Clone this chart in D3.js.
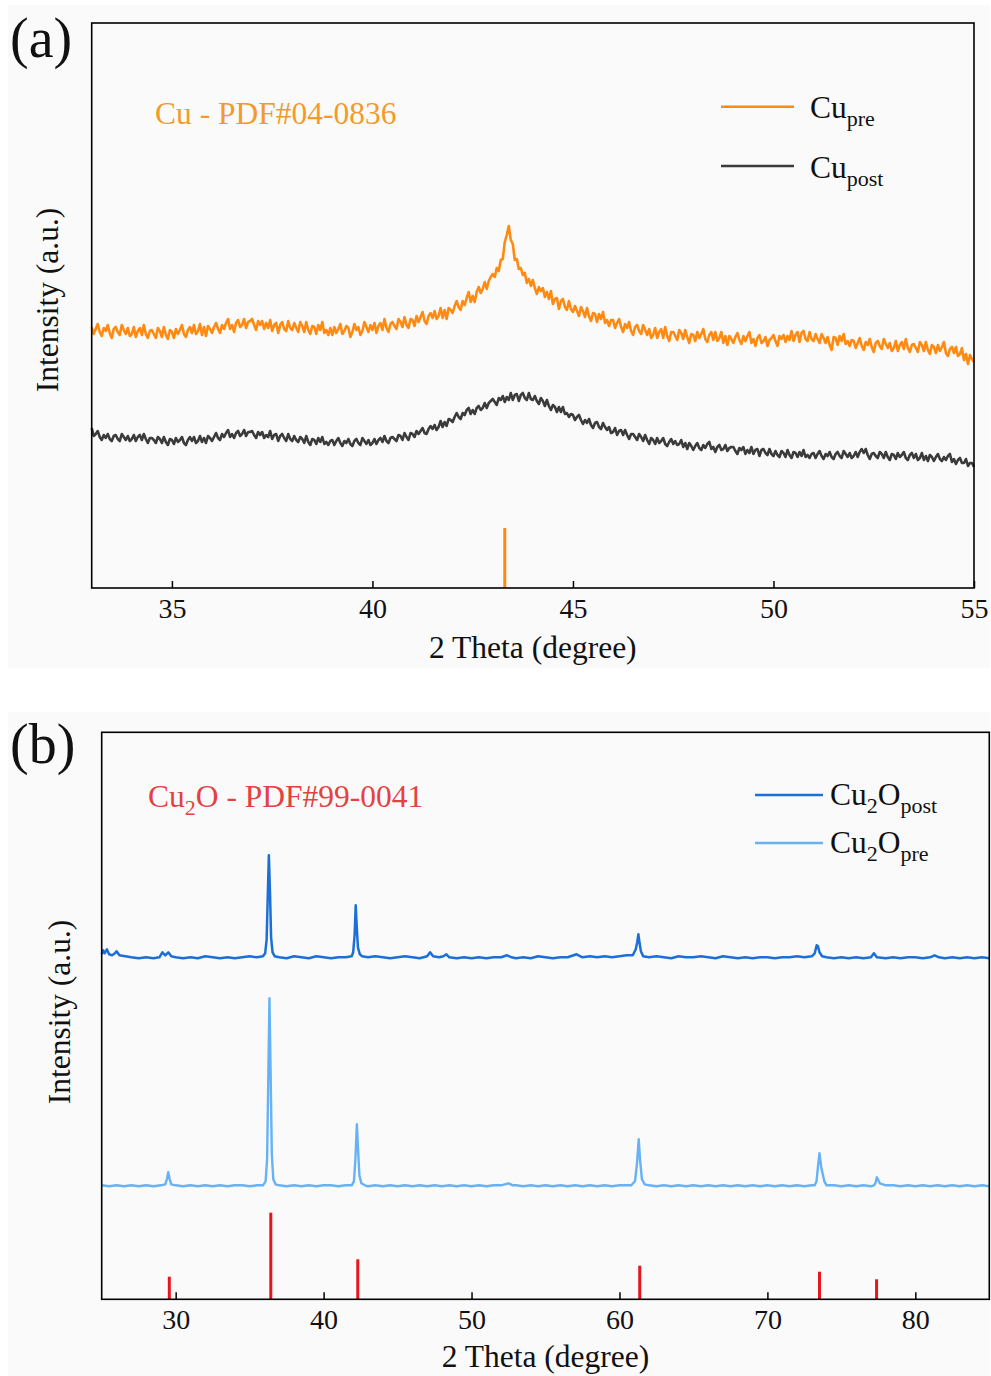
<!DOCTYPE html>
<html><head><meta charset="utf-8">
<script src="https://cdn.jsdelivr.net/npm/d3@7"></script>
<style>
body{margin:0;background:#fff}
svg{display:block}
text{font-family:"Liberation Serif","Times New Roman",serif;fill:#111}
</style>
</head><body><svg id="c" width="991" height="1376"></svg>
<script>
// ---------------- Panel (a) data (2θ from 33° in 0.05° steps) ----------------
const thetaStartA = 33, thetaStepA = 0.05;
const ticksA = [35, 40, 45, 50, 55];
const cuPre = [
261,254,259,264,256,252,260,257,263,255,250,259,261,256,253,263,258,254,260,252,
254,261,251,257,260,253,263,254,250,257,258,254,250,260,257,251,261,253,249,258,
256,250,259,254,258,263,254,251,258,261,255,263,254,257,264,253,261,252,262,259,
255,261,265,259,255,263,259,265,269,259,263,256,265,268,261,263,269,260,266,267,
269,263,258,267,263,267,259,265,260,268,257,263,265,255,263,266,259,257,267,260,
258,265,260,256,266,262,256,266,258,254,262,261,254,263,258,266,255,258,253,260,
253,261,255,259,264,254,257,262,260,251,256,264,258,261,253,257,266,261,256,263,
258,265,255,262,265,258,269,260,256,264,266,262,259,269,266,261,271,263,260,269,
268,262,272,266,271,276,267,264,272,275,270,277,269,272,280,270,278,269,280,278,
275,282,287,281,278,287,283,290,296,286,292,286,296,301,295,299,306,299,307,311,
314,311,320,317,328,329,346,353,362,348,344,328,329,319,320,313,315,305,309,302,
308,300,294,301,297,300,291,296,289,297,284,289,290,279,287,289,281,278,287,279,
276,282,277,272,281,277,271,280,272,267,275,274,266,274,269,276,265,268,262,268,
268,260,265,269,261,256,264,260,266,257,253,261,263,257,254,263,258,253,259,250,
253,260,250,256,259,250,261,252,247,256,256,252,248,258,255,249,258,251,245,254,
253,247,256,250,254,259,249,246,253,256,248,256,247,250,256,245,252,243,252,249,
245,251,255,248,244,252,247,252,256,245,249,242,250,253,245,247,251,242,248,250,
253,247,242,252,249,253,246,252,248,257,247,253,256,246,255,257,249,247,256,249,
247,254,249,245,254,250,245,251,243,238,251,250,243,252,247,254,244,247,242,248,
247,240,245,250,242,238,246,243,249,241,236,245,247,242,239,249,244,240,245,237,
240,247,237,243,246,239,249,240,236,243,244,240,236,246,243,237,246,238,234,243,
241,235,243,237,241,246,235,232,239,241,235,241,232,234,240,228,234,224,233,229,
226];
const cuPost = [
160,152,154,157,151,148,153,150,154,149,147,152,153,149,147,154,151,148,152,147,
149,153,147,151,153,148,154,149,145,150,150,148,145,151,149,145,151,146,143,149,
148,144,150,146,148,151,145,143,148,151,147,151,145,147,152,146,150,145,152,150,
147,151,155,150,148,154,151,155,158,151,154,150,155,157,152,154,158,152,156,156,
157,153,150,156,153,156,150,153,151,157,149,153,154,147,152,154,150,147,154,149,
147,152,148,146,151,149,145,152,146,143,149,148,144,150,146,151,144,146,143,147,
148,143,147,150,145,142,147,145,149,144,142,147,149,145,143,150,147,144,148,143,
145,149,144,148,150,146,152,147,145,150,151,149,147,153,152,148,155,151,148,155,
154,151,157,154,157,160,155,154,159,162,159,163,158,161,167,161,166,162,169,168,
166,171,175,171,169,175,173,178,180,174,178,174,180,182,178,180,185,180,185,187,
189,186,183,190,188,192,186,191,188,195,188,193,194,187,193,195,190,188,195,189,
188,192,187,184,190,187,182,188,182,178,183,181,176,181,176,181,174,175,171,174,
173,168,171,173,168,164,168,165,169,163,160,165,166,161,159,165,161,158,161,155,
156,160,153,157,158,153,158,153,149,154,154,151,148,154,151,147,153,148,144,150,
148,144,150,145,147,150,144,142,146,149,144,147,143,144,148,141,145,139,145,142,
138,142,145,140,138,143,140,144,146,139,141,136,141,143,138,139,143,137,140,141,
141,137,134,140,138,141,134,138,135,141,134,138,139,132,138,139,135,133,139,134,
132,137,133,131,137,135,131,138,133,130,136,135,131,136,132,138,131,133,130,134,
135,130,134,137,132,129,134,132,136,131,129,134,136,132,130,137,134,131,135,130,
132,136,131,136,139,135,139,133,129,134,135,132,130,136,134,130,136,131,128,134,
133,129,135,131,133,136,130,128,133,135,130,134,128,130,135,128,132,127,133,131,
127,131,134,129,127,131,128,132,134,126,129,124,128,130,125,125,129,122,125,125,
121];
const cuRefTheta = [43.3];
const cuRefI = [60];

// ---------------- Panel (b) data ----------------
const ticksB = [30, 40, 50, 60, 70, 80];
const cu2oPostTheta = [25.0,25.1,25.2,25.35,25.5,25.7,25.9,26.0,26.2,26.6,27.0,27.5,28.0,28.5,28.9,29.1,29.3,29.5,29.7,30.0,30.5,31.0,31.5,32.0,32.5,33.0,33.5,34.0,34.5,35.0,35.5,35.9,36.05,36.15,36.22,36.3,36.38,36.45,36.55,36.7,37.0,37.5,38.0,38.5,39.0,39.5,40.0,40.5,41.0,41.5,41.9,42.0,42.1,42.17,42.25,42.32,42.45,42.6,43.0,43.5,44.0,44.5,45.0,45.5,46.0,46.5,47.0,47.2,47.4,47.8,48.1,48.3,48.5,49.0,49.5,50.0,50.5,51.0,51.5,52.0,52.4,52.7,53.0,53.5,54.0,54.5,55.0,55.5,56.0,56.5,57.1,57.5,58.0,58.5,59.0,59.5,60.0,60.5,60.9,61.1,61.2,61.28,61.36,61.45,61.6,62.0,62.5,63.0,63.5,64.0,64.5,65.0,65.5,66.0,66.5,67.0,67.5,68.0,68.5,69.0,69.5,70.0,70.5,71.0,71.5,72.0,72.5,73.0,73.2,73.33,73.42,73.52,73.7,74.0,74.5,75.0,75.5,76.0,76.5,77.0,77.2,77.4,78.0,78.5,79.0,79.5,80.0,80.5,81.0,81.3,81.6,82.0,82.5,83.0,83.5,84.0,84.5,85.0];
const cu2oPostI = [345,349,346,350,345,344,346,348,344,343,342,341,342,341,342,347,344,347,343,342,341,342,341,343,342,341,342,341,342,343,342,343,346,360,400,444,405,362,347,343,342,341,343,342,341,343,342,341,342,342,343,347,365,394,370,352,345,343,342,343,342,341,342,343,342,341,343,347,343,342,343,345,342,341,342,341,342,341,342,342,344,342,341,342,341,343,342,341,342,342,345,342,343,342,343,342,343,344,344,350,357,365,356,348,343,342,343,342,341,343,342,342,343,342,341,343,342,341,342,341,342,342,341,342,342,343,342,343,346,354,353,347,343,342,341,342,341,342,341,342,346,342,341,342,341,342,342,341,342,344,342,341,342,341,342,341,342,341];
const cu2oPreTheta = [25.0,25.5,26.0,26.5,27.0,27.5,28.0,28.5,29.0,29.3,29.42,29.5,29.58,29.7,30.0,30.5,31.0,31.5,32.0,32.5,33.0,33.5,34.0,34.5,35.0,35.5,35.9,36.08,36.18,36.26,36.34,36.42,36.5,36.6,36.75,37.0,37.5,38.0,38.5,39.0,39.5,40.0,40.5,41.0,41.5,41.9,42.05,42.15,42.25,42.33,42.42,42.55,42.8,43.0,43.5,44.0,44.5,45.0,45.5,46.0,46.5,47.0,47.5,48.0,48.5,49.0,49.5,50.0,50.5,51.0,51.5,52.0,52.5,52.8,53.0,53.5,54.0,54.5,55.0,55.5,56.0,56.5,57.0,57.5,58.0,58.5,59.0,59.5,60.0,60.5,60.8,61.05,61.18,61.3,61.4,61.52,61.7,62.0,62.5,63.0,63.5,64.0,64.5,65.0,65.5,66.0,66.5,67.0,67.5,68.0,68.5,69.0,69.5,70.0,70.5,71.0,71.5,72.0,72.5,73.0,73.2,73.32,73.42,73.52,73.65,73.85,74.0,74.5,75.0,75.5,76.0,76.5,77.0,77.2,77.3,77.4,77.6,78.0,78.5,79.0,79.5,80.0,80.5,81.0,81.5,82.0,82.5,83.0,83.5,84.0,84.5,85.0];
const cu2oPreI = [114,113,114,113,114,113,114,113,114,115,121,127,121,115,114,113,114,113,114,113,114,113,114,114,113,114,114,118,140,220,301,225,145,120,115,114,113,114,113,114,113,114,114,113,114,114,118,140,175,150,124,116,114,113,114,113,114,113,114,113,114,113,114,113,114,113,114,113,114,113,114,114,116,114,114,113,114,113,114,113,114,113,114,113,114,113,114,113,114,114,114,118,135,160,138,120,115,114,113,114,113,114,113,114,113,114,113,114,113,114,113,114,113,114,113,114,113,114,113,114,114,118,133,146,131,118,114,114,113,114,113,114,113,114,116,122,116,114,114,113,114,113,114,113,114,113,114,113,114,113,114,113,114];
const cu2oRefTheta = [29.57, 36.43, 42.31, 61.37, 73.52, 77.38];
const cu2oRefI = [22.6, 86.6, 40, 33.6, 27.6, 20];

// ---------------- drawing ----------------
const svg = d3.select('#c');
svg.append('rect').attr('x',8).attr('y',5).attr('width',982).attr('height',663).attr('fill','#fafafa');
svg.append('rect').attr('x',8).attr('y',712).attr('width',982).attr('height',664).attr('fill','#fafafa');

function panel(o){
  const g = svg.append('g');
  const x = d3.scaleLinear().domain(o.xDomain).range([o.left, o.right]);
  const y = d3.scaleLinear().domain(o.yDomain).range([o.bottom, o.top]);
  o.series.forEach(s => {
    const line = d3.line().x((d,i)=>x(s.theta[i])).y(d=>y(d));
    g.append('path').datum(s.values).attr('d', line)
      .attr('fill','none').attr('stroke', s.color).attr('stroke-width', s.width)
      .attr('stroke-linejoin','round');
  });
  g.selectAll('.stick').data(o.ref.theta).join('line')
    .attr('x1', d=>x(d)).attr('x2', d=>x(d))
    .attr('y1', y(0)).attr('y2', (d,i)=>y(o.ref.values[i]))
    .attr('stroke', o.ref.color).attr('stroke-width', 3);
  const ax = g.append('g').attr('transform', `translate(0,${o.bottom})`)
    .call(d3.axisBottom(x).tickValues(o.ticks).tickSizeInner(-7).tickSizeOuter(0).tickPadding(10).tickFormat(d3.format('d')));
  ax.select('.domain').remove();
  ax.selectAll('line').attr('stroke','#000').attr('stroke-width',1.5);
  ax.selectAll('text').attr('font-size',28).attr('font-family','"Liberation Serif",serif').attr('fill','#111');
  g.append('rect').attr('x',o.left).attr('y',o.top).attr('width',o.right-o.left).attr('height',o.bottom-o.top)
    .attr('fill','none').attr('stroke','#000').attr('stroke-width',1.6);
  g.append('text').attr('x',(o.left+o.right)/2).attr('y',o.xTitleY).attr('text-anchor','middle')
    .attr('font-size',31.5).text('2 Theta (degree)');
  g.append('text').attr('transform',`translate(${o.yTitleX},${o.yTitleCY}) rotate(-90)`).attr('text-anchor','middle')
    .attr('font-size',31.5).text('Intensity (a.u.)');
  g.append('text').attr('x',10).attr('y',o.labelY).attr('font-size',56).text(o.label);
  return g;
}

const gA = panel({
  xDomain:[33,55], yDomain:[0,565], left:91.7, right:974, top:23, bottom:588,
  ticks:ticksA, xTitleY:658, yTitleX:58, yTitleCY:300, label:'(a)', labelY:57,
  series:[
    {theta: cuPre.map((d,i)=>thetaStartA + i*thetaStepA), values: cuPre, color:'#FF8A12', width:2.6},
    {theta: cuPost.map((d,i)=>thetaStartA + i*thetaStepA), values: cuPost, color:'#3b3b3b', width:2.6}
  ],
  ref:{theta:cuRefTheta, values:cuRefI, color:'#FF8A12'}
});
gA.append('text').attr('x',155).attr('y',124).attr('font-size',31.5).style('fill','#F39A2B').text('Cu - PDF#04-0836');
gA.append('line').attr('x1',721).attr('x2',794).attr('y1',106.7).attr('y2',106.7).attr('stroke','#FF8A12').attr('stroke-width',2.6);
gA.append('line').attr('x1',721).attr('x2',794).attr('y1',166).attr('y2',166).attr('stroke','#3b3b3b').attr('stroke-width',2.6);
function subLabel(g, xx, yy, parts){
  const t = g.append('text').attr('x',xx).attr('y',yy).attr('font-size',31.5);
  let shift = 0;
  parts.forEach(p=>{
    const want = p.sub ? 8 : 0;
    t.append('tspan').attr('dy', want - shift).attr('font-size', p.sub?22:31.5).text(p.t);
    shift = want;
  });
  return t;
}
subLabel(gA, 810, 118, [{t:'Cu'},{t:'pre',sub:true}]);
subLabel(gA, 810, 178, [{t:'Cu'},{t:'post',sub:true}]);

const gB = panel({
  xDomain:[25,85], yDomain:[0,567], left:101.7, right:989.3, top:732.3, bottom:1299.3,
  ticks:ticksB, xTitleY:1367, yTitleX:70, yTitleCY:1012, label:'(b)', labelY:763,
  series:[
    {theta: cu2oPostTheta, values: cu2oPostI, color:'#1C6FD6', width:2.5},
    {theta: cu2oPreTheta, values: cu2oPreI, color:'#66B2F4', width:2.4}
  ],
  ref:{theta:cu2oRefTheta, values:cu2oRefI, color:'#E8141E'}
});
const tB = subLabel(gB, 148, 807, [{t:'Cu'},{t:'2',sub:true},{t:'O - PDF#99-0041'}]);
tB.style('fill','#E4413F'); tB.selectAll('tspan').style('fill','#E4413F');
gB.append('line').attr('x1',755).attr('x2',823).attr('y1',795).attr('y2',795).attr('stroke','#1C6FD6').attr('stroke-width',2.6);
gB.append('line').attr('x1',755).attr('x2',823).attr('y1',843).attr('y2',843).attr('stroke','#66B2F4').attr('stroke-width',2.6);
subLabel(gB, 830, 805, [{t:'Cu'},{t:'2',sub:true},{t:'O'},{t:'post',sub:true}]);
subLabel(gB, 830, 853, [{t:'Cu'},{t:'2',sub:true},{t:'O'},{t:'pre',sub:true}]);
</script></body></html>
